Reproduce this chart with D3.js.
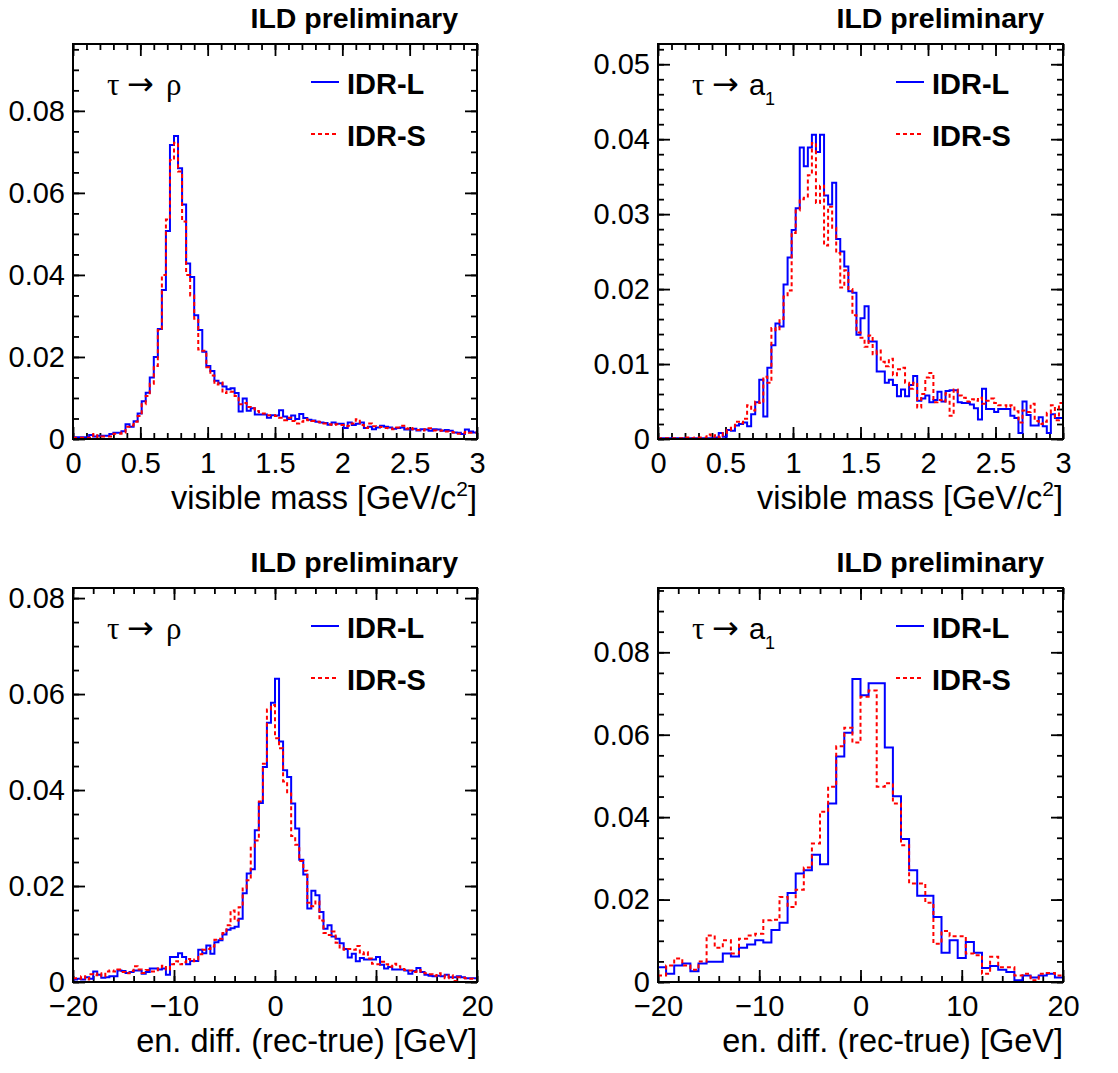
<!DOCTYPE html>
<html>
<head>
<meta charset="utf-8">
<script src="https://cdn.jsdelivr.net/npm/d3@7"></script>
<style>
  body { margin: 0; background: #fff; }
  svg text { font-family: "Liberation Sans", Arial, Helvetica, sans-serif; fill: #000; }
</style>
</head>
<body>
<div id="chart"></div>
<script>
// Bin contents (normalised histograms)
// tau -> rho, visible mass, 100 bins in [0, 3]
const rhoMassL = [
  0.0004,0.0004,0.0004,0.0004,0.0010,0.0006,0.0008,0.0008,0.0008,0.0012,
  0.0015,0.0015,0.0019,0.0036,0.0030,0.0043,0.0062,0.0092,0.0113,0.0150,
  0.0200,0.0268,0.0363,0.0507,0.0717,0.0739,0.0660,0.0572,0.0428,0.0395,
  0.0302,0.0266,0.0213,0.0178,0.0166,0.0142,0.0136,0.0128,0.0121,0.0124,
  0.0112,0.0067,0.0099,0.0069,0.0075,0.0060,0.0060,0.0060,0.0052,0.0058,
  0.0057,0.0070,0.0055,0.0049,0.0057,0.0049,0.0061,0.0051,0.0047,0.0045,
  0.0042,0.0040,0.0039,0.0035,0.0040,0.0037,0.0037,0.0027,0.0040,0.0034,
  0.0037,0.0040,0.0027,0.0030,0.0024,0.0028,0.0032,0.0030,0.0028,0.0025,
  0.0027,0.0028,0.0023,0.0023,0.0025,0.0021,0.0024,0.0023,0.0020,0.0024,
  0.0023,0.0020,0.0022,0.0020,0.0016,0.0015,0.0012,0.0023,0.0018,0.0016
];
const rhoMassS = [
  0.0003,0.0003,0.0003,0.0003,0.0003,0.0012,0.0005,0.0006,0.0006,0.0006,
  0.0013,0.0013,0.0016,0.0030,0.0033,0.0042,0.0056,0.0085,0.0105,0.0135,
  0.0178,0.0266,0.0400,0.0535,0.0680,0.0722,0.0652,0.0530,0.0400,0.0350,
  0.0293,0.0218,0.0215,0.0175,0.0155,0.0133,0.0138,0.0112,0.0116,0.0115,
  0.0105,0.0085,0.0088,0.0078,0.0075,0.0068,0.0065,0.0062,0.0058,0.0058,
  0.0056,0.0052,0.0046,0.0052,0.0044,0.0038,0.0042,0.0048,0.0046,0.0044,
  0.0042,0.0041,0.0038,0.0036,0.0034,0.0036,0.0034,0.0031,0.0032,0.0038,
  0.0048,0.0034,0.0027,0.0038,0.0031,0.0030,0.0029,0.0027,0.0026,0.0024,
  0.0028,0.0032,0.0025,0.0027,0.0024,0.0022,0.0021,0.0024,0.0026,0.0021,
  0.0020,0.0021,0.0018,0.0017,0.0016,0.0013,0.0014,0.0017,0.0015,0.0015
];

// tau -> a1, visible mass, 100 bins in [0, 3]
const a1MassL = [
  0.0001,0.0001,0.0001,0.0001,0.0001,0.0001,0.0001,0.0001,0.0001,0.0001,
  0.0001,0.0001,0.0001,0.0001,0.0002,0.0008,0.0003,0.0012,0.0011,0.0018,
  0.0020,0.0022,0.0017,0.0033,0.0049,0.0079,0.0030,0.0095,0.0125,0.0154,
  0.0150,0.0206,0.0242,0.0279,0.0308,0.0389,0.0364,0.0389,0.0406,0.0383,
  0.0406,0.0325,0.0313,0.0342,0.0267,0.0250,0.0230,0.0197,0.0195,0.0139,
  0.0161,0.0177,0.0130,0.0130,0.0090,0.0090,0.0075,0.0079,0.0072,0.0057,
  0.0066,0.0057,0.0072,0.0084,0.0051,0.0054,0.0058,0.0049,0.0052,0.0063,
  0.0050,0.0064,0.0065,0.0065,0.0049,0.0048,0.0048,0.0046,0.0041,0.0026,
  0.0067,0.0040,0.0040,0.0036,0.0040,0.0040,0.0040,0.0031,0.0028,0.0008,
  0.0050,0.0032,0.0018,0.0018,0.0029,0.0017,0.0008,0.0033,0.0028,0.0028
];
const a1MassS = [
  0.0001,0.0001,0.0001,0.0001,0.0001,0.0001,0.0001,0.0002,0.0001,0.0002,
  0.0002,0.0002,0.0006,0.0003,0.0005,0.0002,0.0008,0.0012,0.0015,0.0023,
  0.0021,0.0027,0.0045,0.0038,0.0050,0.0048,0.0083,0.0075,0.0148,0.0145,
  0.0160,0.0190,0.0198,0.0275,0.0305,0.0320,0.0322,0.0352,0.0395,0.0315,
  0.0338,0.0258,0.0310,0.0282,0.0248,0.0202,0.0225,0.0200,0.0165,0.0142,
  0.0135,0.0123,0.0138,0.0113,0.0118,0.0103,0.0097,0.0107,0.0085,0.0093,
  0.0095,0.0075,0.0067,0.0075,0.0042,0.0060,0.0082,0.0088,0.0049,0.0052,
  0.0050,0.0061,0.0031,0.0066,0.0058,0.0055,0.0050,0.0053,0.0051,0.0055,
  0.0047,0.0051,0.0054,0.0048,0.0045,0.0045,0.0043,0.0045,0.0037,0.0022,
  0.0038,0.0036,0.0047,0.0024,0.0020,0.0023,0.0035,0.0045,0.0025,0.0048
];

// tau -> rho, energy difference, 100 bins in [-20, 20]
const rhoEdiffL = [
  0.0005,0.0007,0.0005,0.0010,0.0007,0.0022,0.0015,0.0009,0.0010,0.0012,
  0.0012,0.0024,0.0023,0.0019,0.0021,0.0024,0.0024,0.0017,0.0021,0.0028,
  0.0028,0.0026,0.0028,0.0015,0.0052,0.0052,0.0060,0.0052,0.0037,0.0044,
  0.0044,0.0067,0.0060,0.0076,0.0059,0.0083,0.0087,0.0099,0.0109,0.0112,
  0.0115,0.0132,0.0185,0.0226,0.0235,0.0316,0.0373,0.0448,0.0540,0.0582,
  0.0632,0.0501,0.0441,0.0427,0.0372,0.0320,0.0255,0.0224,0.0153,0.0190,
  0.0181,0.0146,0.0111,0.0118,0.0095,0.0090,0.0081,0.0069,0.0051,0.0059,
  0.0043,0.0050,0.0047,0.0047,0.0047,0.0052,0.0036,0.0028,0.0031,0.0026,
  0.0026,0.0026,0.0024,0.0017,0.0023,0.0029,0.0021,0.0015,0.0013,0.0012,
  0.0013,0.0012,0.0015,0.0010,0.0010,0.0012,0.0010,0.0008,0.0008,0.0008
];
const rhoEdiffS = [
  0.0008,0.0007,0.0012,0.0005,0.0016,0.0014,0.0018,0.0012,0.0022,0.0024,
  0.0022,0.0026,0.0021,0.0018,0.0023,0.0033,0.0026,0.0019,0.0025,0.0022,
  0.0022,0.0028,0.0034,0.0026,0.0037,0.0043,0.0037,0.0041,0.0048,0.0043,
  0.0047,0.0058,0.0067,0.0069,0.0074,0.0088,0.0090,0.0102,0.0118,0.0149,
  0.0128,0.0156,0.0195,0.0212,0.0280,0.0295,0.0376,0.0455,0.0568,0.0577,
  0.0508,0.0487,0.0418,0.0393,0.0304,0.0286,0.0252,0.0232,0.0165,0.0158,
  0.0168,0.0128,0.0102,0.0098,0.0105,0.0082,0.0072,0.0067,0.0069,0.0067,
  0.0075,0.0058,0.0062,0.0049,0.0038,0.0037,0.0042,0.0037,0.0032,0.0038,
  0.0033,0.0027,0.0025,0.0024,0.0021,0.0025,0.0022,0.0018,0.0016,0.0013,
  0.0018,0.0014,0.0008,0.0014,0.0002,0.0010,0.0009,0.0008,0.0007,0.0006
];

// tau -> a1, energy difference, 50 bins in [-20, 20]
const a1EdiffL = [
  0.0036,0.0020,0.0040,0.0045,0.0026,0.0045,0.0049,0.0049,0.0069,0.0062,
  0.0083,0.0091,0.0101,0.0096,0.0126,0.0144,0.0216,0.0263,0.0271,0.0309,
  0.0286,0.0433,0.0547,0.0605,0.0735,0.0696,0.0725,0.0725,0.0569,0.0451,
  0.0347,0.0271,0.0209,0.0209,0.0158,0.0071,0.0101,0.0058,0.0097,0.0071,
  0.0034,0.0039,0.0030,0.0024,0.0004,0.0016,0.0011,0.0016,0.0020,0.0011
];
const a1EdiffS = [
  0.0016,0.0040,0.0057,0.0040,0.0030,0.0050,0.0113,0.0083,0.0101,0.0069,
  0.0105,0.0113,0.0117,0.0150,0.0151,0.0206,0.0182,0.0224,0.0278,0.0336,
  0.0413,0.0474,0.0572,0.0617,0.0581,0.0692,0.0707,0.0474,0.0482,0.0433,
  0.0332,0.0239,0.0239,0.0192,0.0093,0.0124,0.0111,0.0111,0.0069,0.0065,
  0.0020,0.0061,0.0036,0.0036,0.0016,0.0020,0.0004,0.0020,0.0022,0.0016
];

// Axis ranges and tick labels
const massRange = [0, 3];
const ediffRange = [-20, 20];
const yMaxes = [0.0963, 0.0527, 0.0821, 0.0956];
const massTicks = [0, 0.5, 1, 1.5, 2, 2.5, 3];
const massTickLabels = ["0", "0.5", "1", "1.5", "2", "2.5", "3"];
const ediffTicks = [-20, -10, 0, 10, 20];
const ediffTickLabels = ["\u221220", "\u221210", "0", "10", "20"];
const yTicks02 = [0, 0.02, 0.04, 0.06, 0.08];
const yTickLabels02 = ["0", "0.02", "0.04", "0.06", "0.08"];
const yTicks01 = [0, 0.01, 0.02, 0.03, 0.04, 0.05];
const yTickLabels01 = ["0", "0.01", "0.02", "0.03", "0.04", "0.05"];
const seriesNames = ["IDR-L", "IDR-S"];

const W = 1118, H = 1073;
const blue = "#0000ff", red = "#ff0000";
const serif = '"Liberation Serif", "DejaVu Serif", serif';

const svg = d3.select("#chart")
  .append("svg")
  .attr("width", W)
  .attr("height", H)
  .style("background", "#fff");

const panels = [
  { left: 73, top: 44, w: 404, h: 395, xDomain: massRange, yMax: yMaxes[0],
    L: rhoMassL, S: rhoMassS, xTicks: massTicks, xLabels: massTickLabels, xMinor: 0.1,
    yTicks: yTicks02, yLabels: yTickLabels02, yMinor: 0.005, decay: "rho", title: "mass" },
  { left: 658, top: 44, w: 405, h: 395, xDomain: massRange, yMax: yMaxes[1],
    L: a1MassL, S: a1MassS, xTicks: massTicks, xLabels: massTickLabels, xMinor: 0.1,
    yTicks: yTicks01, yLabels: yTickLabels01, yMinor: 0.002, decay: "a1", title: "mass" },
  { left: 73, top: 588, w: 404, h: 394, xDomain: ediffRange, yMax: yMaxes[2],
    L: rhoEdiffL, S: rhoEdiffS, xTicks: ediffTicks, xLabels: ediffTickLabels, xMinor: 2,
    yTicks: yTicks02, yLabels: yTickLabels02, yMinor: 0.005, decay: "rho", title: "ediff" },
  { left: 658, top: 588, w: 405, h: 394, xDomain: ediffRange, yMax: yMaxes[3],
    L: a1EdiffL, S: a1EdiffS, xTicks: ediffTicks, xLabels: ediffTickLabels, xMinor: 2,
    yTicks: yTicks02, yLabels: yTickLabels02, yMinor: 0.005, decay: "a1", title: "ediff" }
];

function styleAxis(sel) {
  sel.select(".domain").remove();
  sel.selectAll(".tick line").attr("stroke", "#000").attr("stroke-width", 1.8);
  sel.selectAll("text")
    .style("font-size", "29px")
    .style("font-family", '"Liberation Sans", Arial, sans-serif')
    .attr("fill", "#000");
}

function drawPanel(p) {
  const g = svg.append("g").attr("transform", `translate(${p.left}, ${p.top})`);

  const x = d3.scaleLinear().domain(p.xDomain).range([0, p.w]);
  const y = d3.scaleLinear().domain([0, p.yMax]).range([p.h, 0]);

  const xMinorTicks = d3.range(0, Math.round((p.xDomain[1] - p.xDomain[0]) / p.xMinor) + 1)
    .map(k => p.xDomain[0] + k * p.xMinor);
  const yMinorTicks = d3.range(0, Math.floor(p.yMax / p.yMinor + 1e-6) + 1)
    .map(k => k * p.yMinor);

  // minor ticks on all four sides
  g.append("g").attr("transform", `translate(0, ${p.h})`)
    .call(d3.axisBottom(x).tickValues(xMinorTicks).tickSize(-6).tickSizeOuter(0).tickFormat(""))
    .call(styleAxis);
  g.append("g")
    .call(d3.axisTop(x).tickValues(xMinorTicks).tickSize(-6).tickSizeOuter(0).tickFormat(""))
    .call(styleAxis);
  g.append("g")
    .call(d3.axisLeft(y).tickValues(yMinorTicks).tickSize(-6).tickSizeOuter(0).tickFormat(""))
    .call(styleAxis);
  g.append("g").attr("transform", `translate(${p.w}, 0)`)
    .call(d3.axisRight(y).tickValues(yMinorTicks).tickSize(-6).tickSizeOuter(0).tickFormat(""))
    .call(styleAxis);

  // major ticks + labels
  g.append("g").attr("transform", `translate(0, ${p.h})`)
    .call(d3.axisBottom(x).tickValues(p.xTicks).tickSize(-12).tickSizeOuter(0).tickPadding(13)
      .tickFormat((d, i) => p.xLabels[i]))
    .call(styleAxis);
  g.append("g")
    .call(d3.axisTop(x).tickValues(p.xTicks).tickSize(-12).tickSizeOuter(0).tickFormat(""))
    .call(styleAxis);
  g.append("g")
    .call(d3.axisLeft(y).tickValues(p.yTicks).tickSize(-12).tickSizeOuter(0).tickPadding(8)
      .tickFormat((d, i) => p.yLabels[i]))
    .call(styleAxis);
  g.append("g").attr("transform", `translate(${p.w}, 0)`)
    .call(d3.axisRight(y).tickValues(p.yTicks).tickSize(-12).tickSizeOuter(0).tickFormat(""))
    .call(styleAxis);

  // histograms as step lines
  const nBins = p.L.length;
  const binW = (p.xDomain[1] - p.xDomain[0]) / nBins;
  const steps = vals => vals.map((v, i) => [p.xDomain[0] + i * binW, v])
    .concat([[p.xDomain[1], vals[nBins - 1]]]);
  const line = d3.line()
    .x(d => x(d[0]))
    .y(d => y(d[1]))
    .curve(d3.curveStepAfter);

  g.append("path")
    .attr("d", line(steps(p.L)))
    .attr("fill", "none")
    .attr("stroke", blue)
    .attr("stroke-width", 2);

  g.append("path")
    .attr("d", line(steps(p.S)))
    .attr("fill", "none")
    .attr("stroke", red)
    .attr("stroke-width", 2)
    .attr("stroke-dasharray", "4,3");

  // frame
  g.append("rect")
    .attr("x", 0).attr("y", 0)
    .attr("width", p.w).attr("height", p.h)
    .attr("fill", "none")
    .attr("stroke", "#000")
    .attr("stroke-width", 2);

  // "ILD preliminary"
  g.append("text")
    .attr("x", p.w - 19)
    .attr("y", -16)
    .attr("text-anchor", "end")
    .style("font-size", "28.5px")
    .style("font-weight", "bold")
    .text("ILD preliminary");

  // legend
  const legend = [
    { name: seriesNames[0], color: blue, dash: null, ly: 38, ty: 50 },
    { name: seriesNames[1], color: red, dash: "4,3", ly: 90, ty: 102 }
  ];
  legend.forEach(l => {
    g.append("line")
      .attr("x1", 238).attr("x2", 266)
      .attr("y1", l.ly).attr("y2", l.ly)
      .attr("stroke", l.color)
      .attr("stroke-width", 2)
      .attr("stroke-dasharray", l.dash);
    g.append("text")
      .attr("x", 274)
      .attr("y", l.ty)
      .style("font-size", "29px")
      .style("font-weight", "bold")
      .text(l.name);
  });

  // decay label: tau -> rho / tau -> a1
  const dl = g.append("g");
  dl.append("text").attr("x", 34).attr("y", 51)
    .style("font-family", serif).style("font-size", "31px").text("\u03c4");
  dl.append("text").attr("x", 54).attr("y", 51)
    .style("font-family", '"DejaVu Sans", sans-serif').style("font-size", "32px").text("\u2192");
  if (p.decay === "rho") {
    dl.append("text").attr("x", 93).attr("y", 51)
      .style("font-family", serif).style("font-size", "31px").text("\u03c1");
  } else {
    dl.append("text").attr("x", 91).attr("y", 51)
      .style("font-size", "29px").text("a");
    dl.append("text").attr("x", 107).attr("y", 61)
      .style("font-size", "18px").text("1");
  }

  // x axis title
  const t = g.append("text")
    .attr("x", p.w)
    .attr("y", p.h + 70)
    .attr("text-anchor", "end")
    .style("font-size", "32.5px");
  if (p.title === "mass") {
    t.append("tspan").text("visible mass [GeV/c");
    t.append("tspan").attr("dy", -13).style("font-size", "21px").text("2");
    t.append("tspan").attr("dy", 13).text("]");
  } else {
    t.text("en. diff. (rec-true) [GeV]");
  }
}

panels.forEach(drawPanel);
</script>
</body>
</html>
